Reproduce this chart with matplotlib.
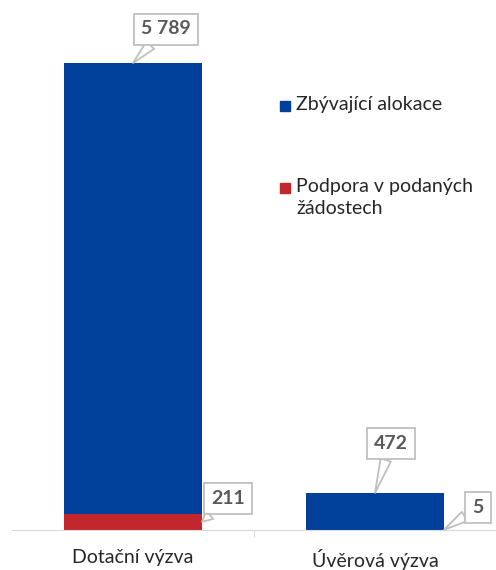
import matplotlib
matplotlib.use("Agg")
import matplotlib.pyplot as plt
from matplotlib.patches import Rectangle

plt.rcParams["font.family"] = ["Lato", "DejaVu Sans"]

categories = ["Dotační výzva", "Úvěrová výzva"]
podpora = [211, 5]
zbyvajici = [5789, 472]
series_names = ["Zbývající alokace", "Podpora v podaných\nžádostech"]

BLUE = "#00409A"
RED = "#C1272D"
GRID = "#D9D9D9"

W, H = 496, 570
fig = plt.figure(figsize=(W / 100, H / 100), dpi=100)
ax = fig.add_axes([12 / W, 40 / H, 484 / W, 520 / H])

x = list(range(len(categories)))
bw = 0.57
ax.bar(x, podpora, width=bw, color=RED, zorder=2)
ax.bar(x, zbyvajici, width=bw, bottom=podpora, color=BLUE, zorder=2)

ax.set_xlim(-0.5, 1.5)
ax.set_ylim(0, 6000 * 520 / 467)

for s in ["top", "left", "right"]:
    ax.spines[s].set_visible(False)
ax.spines["bottom"].set_color(GRID)
ax.set_yticks([])
ax.set_xticks([0.5], minor=False)
ax.set_xticklabels([""])
ax.tick_params(axis="x", length=5, color=GRID)
for xi, name in zip(x, categories):
    ax.text(xi, -0.036, name, transform=ax.get_xaxis_transform(),
            ha="center", va="top", fontsize=14, color="#262626")


def callout(xy, offset, text):
    ax.annotate(
        text, xy=xy, xytext=offset, textcoords="offset pixels",
        ha="center", va="center", fontsize=14, fontweight="bold",
        color="#595959", zorder=5,
        bbox=dict(boxstyle="square,pad=0.36", fc="white", ec="#BFBFBF", lw=1.3),
        arrowprops=dict(arrowstyle="wedge,tail_width=0.55,shrink_factor=0.5",
                        fc="white", ec="#BFBFBF", lw=1.3,
                        shrinkA=0, shrinkB=0),
    )


# labels for the blue segments (top centre) and red segments (right edge)
for xi, p, z, off in zip(x, podpora, zbyvajici, [(33, 34), (16, 49)]):
    callout((xi, p + z), off, f"{z:,}".replace(",", "\u00a0"))
for xi, p, off in zip(x, podpora, [(26, 23), (34, 22)]):
    callout((xi + bw / 2, p / 2), off, str(p))

# legend
for i, (name, col) in enumerate(zip(series_names, [BLUE, RED])):
    y0 = 100.7 + i * 82
    fig.patches.append(Rectangle((280 / W, 1 - (y0 + 10) / H), 10 / W, 10 / H,
                                 transform=fig.transFigure, color=col))
    fig.text(296 / W, 1 - (y0 - 5) / H, name, ha="left", va="top",
             fontsize=14, color="#262626", linespacing=1.4)

fig.savefig("out.png", dpi=100)
